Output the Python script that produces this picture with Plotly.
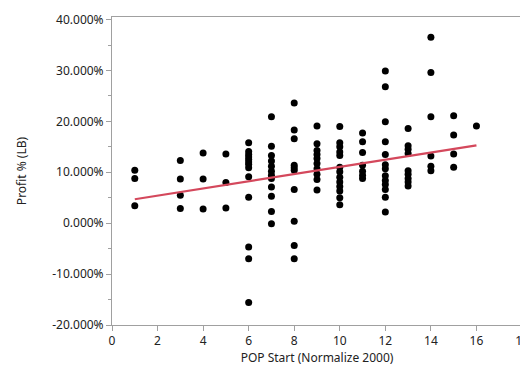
import plotly.graph_objects as go

# POP Start values (x) and Profit % (y) per column
pop_start = [1, 3, 4, 5, 6, 7, 8, 9, 10, 11, 12, 13, 14, 15, 16]
profit_by_pop = [
    [10.4, 8.8, 3.4],
    [12.3, 8.7, 5.5, 2.9],
    [13.8, 8.7, 2.8],
    [13.6, 8.0, 3.0],
    [15.8, 14.1, 13.5, 13.0, 12.5, 12.0, 11.6, 10.9, 9.1, 5.1, -4.7, -7.0, -15.6],
    [20.9, 15.1, 13.3, 12.2, 11.2, 10.2, 9.4, 8.8, 7.1, 5.3, 2.3, -0.1],
    [23.6, 18.3, 16.6, 11.4, 10.9, 10.4, 6.6, 0.4, -4.4, -7.0],
    [19.1, 15.6, 14.3, 13.5, 12.7, 11.7, 10.7, 9.6, 8.6, 6.5],
    [19.0, 15.8, 15.0, 14.0, 13.3, 11.0, 10.1, 9.0, 8.1, 7.2, 6.3, 5.0, 3.6],
    [17.7, 16.0, 13.9, 11.4, 10.2, 9.4, 8.8],
    [29.9, 26.8, 19.9, 16.0, 13.5, 11.5, 10.7, 9.3, 8.4, 7.6, 6.6, 5.1, 2.2],
    [18.6, 15.2, 14.5, 13.7, 10.3, 9.6, 8.8, 8.1, 7.3],
    [36.5, 29.6, 20.9, 13.2, 11.2, 10.3],
    [21.1, 17.3, 13.6, 11.0],
    [19.1],
]
fit_x = [1, 16]
fit_y = [4.7, 15.3]

x_ticks = [0, 2, 4, 6, 8, 10, 12, 14, 16, 18]
y_ticks = [-20, -10, 0, 10, 20, 30, 40]
y_tick_labels = ["-20.000%", "-10.000%", "0.000%", "10.000%", "20.000%", "30.000%", "40.000%"]

xs, ys = [], []
for xv, vals in zip(pop_start, profit_by_pop):
    for v in vals:
        xs.append(xv)
        ys.append(v)

fig = go.Figure()
fig.add_trace(go.Scatter(
    x=xs, y=ys, mode="markers",
    marker=dict(color="black", size=7, line=dict(width=0)),
    showlegend=False, hoverinfo="skip"))
fig.add_trace(go.Scatter(
    x=fit_x, y=fit_y, mode="lines",
    line=dict(color="#d4485c", width=2.2),
    showlegend=False, hoverinfo="skip"))

axis_font = dict(family="Noto Sans, Open Sans, sans-serif", size=12, color="#222222")
# page has an 8px body margin, so the figure is sized/offset to compensate
fig.update_layout(
    width=520, height=366,
    margin=dict(l=104, r=6, t=9, b=49),
    paper_bgcolor="white", plot_bgcolor="white",
    font=axis_font,
)
fig.update_xaxes(
    range=[0, 18], tickvals=x_ticks, ticks="outside", ticklen=5, tickcolor="#a0a0a0",
    showline=True, linecolor="#a0a0a0", linewidth=1, mirror=True,
    showgrid=False, zeroline=False, automargin=False, ticklabeloverflow="allow",
    title=dict(text="POP Start (Normalize 2000)", font=axis_font, standoff=2),
    tickfont=axis_font,
)
fig.update_yaxes(
    range=[-20, 40.5], tickvals=y_ticks, ticktext=y_tick_labels,
    ticks="outside", ticklen=5, tickcolor="#a0a0a0",
    minor=dict(tickvals=[-15, -5, 5, 15, 25, 35], ticks="outside", ticklen=3, tickcolor="#a0a0a0"),
    showline=True, linecolor="#a0a0a0", linewidth=1, mirror=True,
    showgrid=False, zeroline=False, automargin=False, ticklabeloverflow="allow",
    title=dict(text="Profit % (LB)", font=axis_font, standoff=23),
    tickfont=axis_font,
)

fig.write_html("out.html")
